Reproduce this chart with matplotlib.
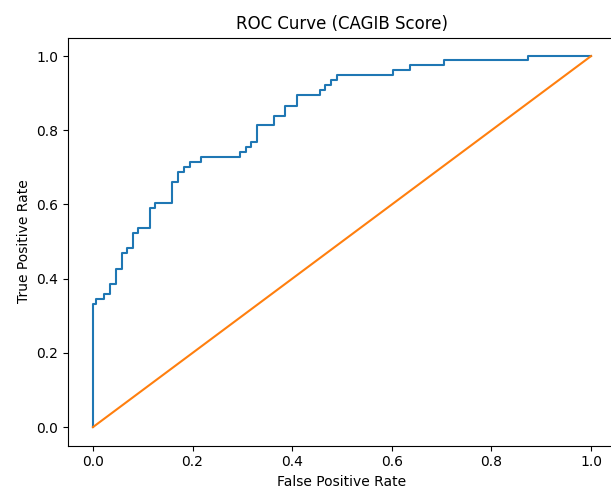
import matplotlib
matplotlib.use("Agg")
import matplotlib.pyplot as plt

# ROC points (step curve)
fpr = [0.0, 0.0, 0.006, 0.022, 0.035, 0.046, 0.058, 0.068, 0.080, 0.091,
       0.114, 0.124, 0.158, 0.171, 0.183, 0.194, 0.216, 0.295, 0.307, 0.318,
       0.330, 0.363, 0.385, 0.409, 0.455, 0.466, 0.477, 0.489, 0.602, 0.636,
       0.704, 0.874, 1.0]
tpr = [0.0, 0.332, 0.346, 0.359, 0.386, 0.426, 0.468, 0.483, 0.523, 0.537,
       0.591, 0.604, 0.661, 0.687, 0.701, 0.714, 0.729, 0.742, 0.756, 0.769,
       0.814, 0.839, 0.866, 0.895, 0.908, 0.922, 0.935, 0.949, 0.962, 0.976,
       0.989, 1.0, 1.0]
diag = [0, 1]

fig = plt.figure(figsize=(6.11, 4.92), dpi=100)
ax = fig.add_axes([68 / 611, 1 - 445.7 / 492, 548 / 611, 408.2 / 492])
ax.step(fpr, tpr, where='post')
ax.plot(diag, diag)
ax.set_xlabel('False Positive Rate')
ax.set_ylabel('True Positive Rate')
ax.set_title('ROC Curve (CAGIB Score)')
fig.savefig('out.png', dpi=100)
